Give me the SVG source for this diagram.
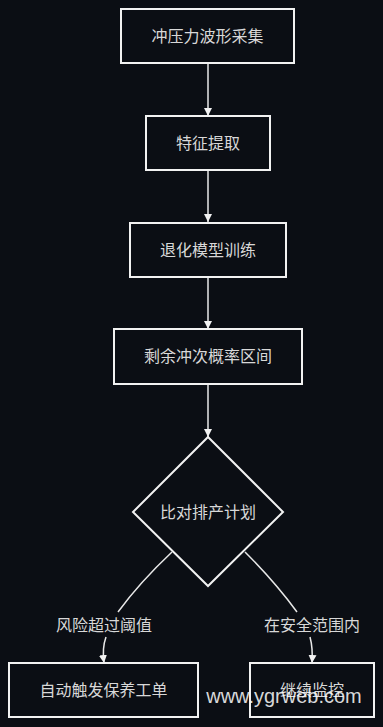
<svg xmlns="http://www.w3.org/2000/svg" width="383" height="727" viewBox="0 0 383 727">
<style>
.node rect,.node polygon{fill:#0b0e14;stroke:#f2f2f2;stroke-width:2}
.t{font-family:"Noto Sans CJK SC","Noto Sans",sans-serif;font-size:16px;fill:#d8d8d8;text-anchor:middle}
.edge{fill:none;stroke:#e8e8e8;stroke-width:1.5}
.lbl{fill:#0b0e14}
</style>
<defs>
<marker id="arr" viewBox="0 0 10 10" refX="10" refY="5" markerWidth="8" markerHeight="8" markerUnits="userSpaceOnUse" orient="auto">
<path d="M0,0 L10,5 L0,10 z" fill="#f2f2f2"/>
</marker>
</defs>
<rect width="383" height="727" fill="#0b0e14"/>
<g id="connectors">
<path class="edge" d="M208,63 L208,116" marker-end="url(#arr)"/>
<path class="edge" d="M208,170 L208,222" marker-end="url(#arr)"/>
<path class="edge" d="M208,277 L208,329" marker-end="url(#arr)"/>
<path class="edge" d="M208,384 L208,437" marker-end="url(#arr)"/>
<path class="edge" d="M172,552 Q140,582 118,612"/>
<path class="edge" d="M106,637 Q102,648 104,663" marker-end="url(#arr)"/>
<path class="edge" d="M245,552 Q275,582 297,612"/>
<path class="edge" d="M310,637 Q313,648 312,663" marker-end="url(#arr)"/>
<rect class="lbl" x="56" y="614" width="96" height="22"/>
<text class="t" x="104" y="631">风险超过阈值</text>
<rect class="lbl" x="264" y="614" width="96" height="22"/>
<text class="t" x="312" y="631">在安全范围内</text>
</g>
<g id="n1" class="node"><rect x="121" y="9" width="173" height="54"/><text class="t" x="207.5" y="42">冲压力波形采集</text></g>
<g id="n2" class="node"><rect x="146" y="116" width="124" height="54"/><text class="t" x="208" y="149">特征提取</text></g>
<g id="n3" class="node"><rect x="130" y="223" width="156" height="54"/><text class="t" x="208" y="256">退化模型训练</text></g>
<g id="n4" class="node"><rect x="114" y="329" width="188" height="55"/><text class="t" x="208" y="362">剩余冲次概率区间</text></g>
<g id="n5" class="node"><polygon points="208,437 283,512 208,586 133,512"/><text class="t" x="208" y="518">比对排产计划</text></g>
<g id="n6" class="node"><rect x="9" y="663" width="189" height="54"/><text class="t" x="103.5" y="696">自动触发保养工单</text></g>
<g id="n7" class="node"><rect x="250" y="663" width="124" height="54"/><text class="t" x="312" y="696">继续监控</text></g>
<text x="284" y="703" font-family="Liberation Sans,Arial,sans-serif" font-size="20" fill="#ffffff" fill-opacity="0.85" text-anchor="middle">www.ygrweb.com</text>
</svg>
